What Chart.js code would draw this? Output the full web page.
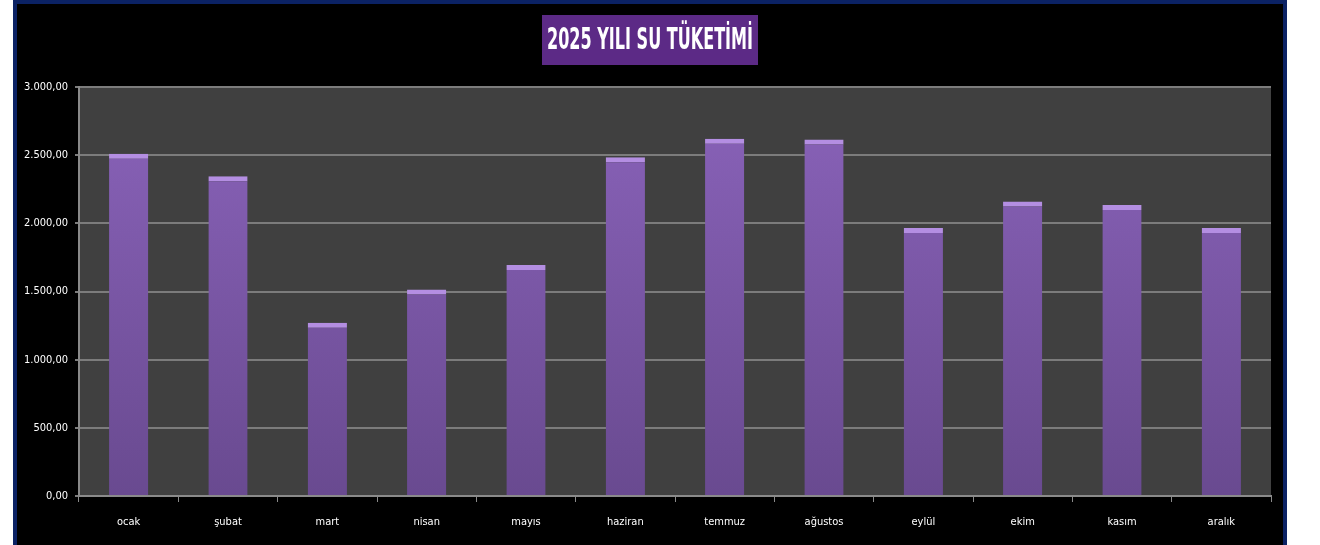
<!DOCTYPE html>
<html>
<head>
<meta charset="utf-8">
<script src="https://cdn.jsdelivr.net/npm/chart.js@4/dist/chart.umd.min.js"></script>
<style>
  html, body { margin: 0; padding: 0; background: #ffffff; width: 1320px; height: 545px; overflow: hidden; }
  #frame { position: absolute; left: 13px; top: 0px; width: 1266px; height: 560px; border: 4px solid #0B2264; background: #000000; }
  #wrap { position: absolute; left: 0; top: 0; width: 1266px; height: 541px; }
</style>
</head>
<body>
<div id="frame"><div id="wrap"><canvas id="c" width="1266" height="541"></canvas></div></div>
<script>
const TITLE = '2025 YILI SU TÜKETİMİ';
const months = ['ocak', 'şubat', 'mart', 'nisan', 'mayıs', 'haziran', 'temmuz', 'ağustos', 'eylül', 'ekim', 'kasım', 'aralık'];
const consumption = [2510, 2345, 1270, 1515, 1695, 2485, 2620, 2615, 1965, 2160, 2135, 1965];
const yMin = 0;
const yMax = 3000;
const yStep = 500;

function fmtTR(v) {
  const fixed = Number(v).toFixed(2);
  const [intPart, dec] = fixed.split('.');
  return intPart.replace(/\B(?=(\d{3})+(?!\d))/g, '.') + ',' + dec;
}

const plotBg = {
  id: 'plotBg',
  beforeDraw(chart) {
    const { ctx, chartArea: a } = chart;
    ctx.save();
    ctx.fillStyle = '#404040';
    ctx.fillRect(a.left, a.top, a.right - a.left, a.bottom - a.top);
    ctx.restore();
  }
};

const titleBox = {
  id: 'titleBox',
  afterDraw(chart) {
    const ctx = chart.ctx;
    const cx = chart.width / 2;
    ctx.save();
    ctx.fillStyle = '#5C2A86';
    ctx.fillRect(cx - 108, 11, 216, 50);
    ctx.fillStyle = '#ffffff';
    ctx.font = "bold 31px 'Liberation Sans Narrow', 'DejaVu Sans Condensed', 'Open Sans', sans-serif";
    ctx.textAlign = 'center';
    ctx.textBaseline = 'middle';
    ctx.fillText(TITLE, cx, 37, 206);
    ctx.restore();
  }
};

const ctx = document.getElementById('c').getContext('2d');
new Chart(ctx, {
  type: 'bar',
  data: {
    labels: months,
    datasets: [{
      data: consumption,
      backgroundColor: (c) => {
        const a = c.chart.chartArea;
        if (!a) return '#7E59AC';
        const g = c.chart.ctx.createLinearGradient(0, a.top, 0, a.bottom);
        g.addColorStop(0, '#8A63BA');
        g.addColorStop(1, '#694A90');
        return g;
      },
      borderColor: '#B48EE2',
      borderWidth: { top: 5, left: 0, right: 0, bottom: 0 },
      borderSkipped: 'bottom',
      categoryPercentage: 1,
      barPercentage: 0.395
    }]
  },
  options: {
    responsive: false,
    animation: false,
    layout: { padding: { top: 83, right: 12, left: 0, bottom: 0 } },
    plugins: { legend: { display: false }, title: { display: false }, tooltip: { enabled: false } },
    scales: {
      x: {
        afterFit(s) { s.height = 49; },
        grid: { display: true, drawOnChartArea: false, drawTicks: true, tickLength: 6, color: '#8a8a8a', offset: true },
        border: { display: true, color: '#8a8a8a', width: 2 },
        ticks: { color: '#ffffff', padding: 14, font: { family: "'DejaVu Sans Condensed', 'Liberation Sans Narrow', sans-serif", size: 11 } }
      },
      y: {
        min: yMin, max: yMax,
        afterFit(s) { s.width = 62; },
        grid: { color: '#7c7c7c', lineWidth: 2, tickLength: 4, drawTicks: true },
        border: { display: true, color: '#8a8a8a', width: 2 },
        ticks: {
          stepSize: yStep,
          color: '#ffffff',
          padding: 7,
          font: { family: "'DejaVu Sans Condensed', 'Liberation Sans Narrow', sans-serif", size: 11 },
          callback: (v) => fmtTR(v)
        }
      }
    }
  },
  plugins: [plotBg, titleBox]
});
</script>
</body>
</html>
